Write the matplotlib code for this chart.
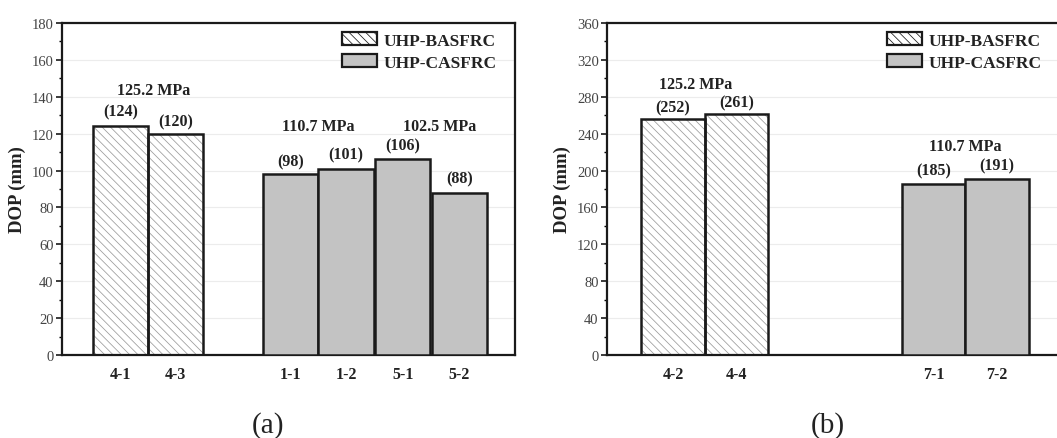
import matplotlib
matplotlib.use("Agg")
import matplotlib.pyplot as plt
from matplotlib.ticker import MultipleLocator
from matplotlib.patches import Patch

plt.rcParams['font.family'] = ['Liberation Serif', 'DejaVu Serif']
plt.rcParams['hatch.linewidth'] = 0.55

# ---- data: panel (a) ----
a_labels = ["4-1", "4-3", "1-1", "1-2", "5-1", "5-2"]
a_values = [124, 120, 98, 101, 106, 88]
a_series = ["BAS", "BAS", "CAS", "CAS", "CAS", "CAS"]
a_value_text = ["(124)", "(120)", "(98)", "(101)", "(106)", "(88)"]
a_strength = ["125.2 MPa", "110.7 MPa", "102.5 MPa"]

# ---- data: panel (b) ----
b_labels = ["4-2", "4-4", "7-1", "7-2"]
b_values = [256, 261, 185, 191]
b_series = ["BAS", "BAS", "CAS", "CAS"]
b_value_text = ["(252)", "(261)", "(185)", "(191)"]
b_strength = ["125.2 MPa", "110.7 MPa"]

legend_names = ["UHP-BASFRC", "UHP-CASFRC"]

W, H = 1057, 439
fig = plt.figure(figsize=(W / 100, H / 100), dpi=100)

def fpos(x0, y0, x1, y1):
    return [x0 / W, 1 - y1 / H, (x1 - x0) / W, (y1 - y0) / H]

axA = fig.add_axes(fpos(62, 24, 515, 356))
axB = fig.add_axes(fpos(607, 24, 1075, 356))

GRAY = "#c3c3c3"
HATCH_C = "#9a9a9a"
EDGE = "#1a1a1a"
TXT = "#222222"
HATCH = "\\\\\\\\"

def draw(ax, pos, vals, series):
    for x, v, s in zip(pos, vals, series):
        if s == "BAS":
            ax.bar(x, v, width=1.0, color="white", edgecolor=HATCH_C,
                   hatch=HATCH, linewidth=0, zorder=2)
            ax.bar(x, v, width=1.0, color="none", edgecolor=EDGE,
                   linewidth=1.8, zorder=3)
        else:
            ax.bar(x, v, width=1.0, color=GRAY, edgecolor=EDGE,
                   linewidth=1.8, zorder=3)

def style(ax, ymax, major, xlim):
    ax.set_ylim(0, ymax)
    ax.set_xlim(*xlim)
    ax.yaxis.set_major_locator(MultipleLocator(major))
    ax.yaxis.set_minor_locator(MultipleLocator(major / 2))
    ax.tick_params(axis='y', which='major', direction='out', length=4,
                   width=1.2, labelsize=10.5, colors=EDGE, labelcolor="#444444", pad=2)
    ax.tick_params(axis='y', which='minor', direction='out', length=2.5, width=1.0)
    ax.tick_params(axis='x', length=0, pad=8)
    for t in ax.get_xticklabels():
        t.set_fontweight('bold')
        t.set_fontsize(11.5)
        t.set_color(TXT)
    for sp in ax.spines.values():
        sp.set_linewidth(1.6)
        sp.set_color(EDGE)
    ax.grid(axis='y', color="#ececec", linewidth=0.8, zorder=0)
    ax.set_axisbelow(True)
    ax.set_ylabel("DOP (mm)", fontsize=13.5, fontweight='bold', labelpad=4, color=TXT)

# panel (a)
a_pos = [1, 2, 4.1, 5.1, 6.13, 7.16]
draw(axA, a_pos, a_values, a_series)
axA.set_xticks(a_pos)
axA.set_xticklabels(a_labels)
style(axA, 180, 20, (-0.06, 8.17))
a_text_y = [132, 126.5, 105, 109, 113.5, 95.5]
for x, y, t in zip(a_pos, a_text_y, a_value_text):
    axA.text(x, y, t, ha='center', va='center', fontsize=11.5, fontweight='bold', color=TXT)
for (x, y), t in zip([(1.6, 143.7), (4.6, 124), (6.8, 124)], a_strength):
    axA.text(x, y, t, ha='center', va='center', fontsize=11.5, fontweight='bold', color=TXT)

# panel (b)
b_pos = [1, 2, 5.1, 6.1]
draw(axB, b_pos, b_values, b_series)
axB.set_xticks(b_pos)
axB.set_xticklabels(b_labels)
style(axB, 360, 40, (-0.04, 7.33))
b_text_y = [269, 274, 200, 206]
for x, y, t in zip(b_pos, b_text_y, b_value_text):
    axB.text(x, y, t, ha='center', va='center', fontsize=11.5, fontweight='bold', color=TXT)
for (x, y), t in zip([(1.35, 294), (5.6, 227)], b_strength):
    axB.text(x, y, t, ha='center', va='center', fontsize=11.5, fontweight='bold', color=TXT)

# legends
def legend(ax, fx, fy):
    handles = [
        Patch(facecolor="white", edgecolor=EDGE, hatch=HATCH, linewidth=1.6),
        Patch(facecolor=GRAY, edgecolor=EDGE, linewidth=1.6),
    ]
    leg = ax.legend(handles, legend_names, loc='upper left',
                    bbox_to_anchor=(fx / W, 1 - fy / H), bbox_transform=fig.transFigure,
                    frameon=False, prop={'family': 'Liberation Serif', 'weight': 'bold', 'size': 12.5},
                    handlelength=2.0, handleheight=0.8, handletextpad=0.4,
                    labelspacing=0.3, borderpad=0, borderaxespad=0)
    for t in leg.get_texts():
        t.set_color(TXT)

legend(axA, 342, 33)
legend(axB, 887, 33)

fig.text(268 / W, 1 - 426 / H, "(a)", ha='center', va='center', fontsize=21, color=TXT)
fig.text(828 / W, 1 - 426 / H, "(b)", ha='center', va='center', fontsize=21, color=TXT)

fig.savefig("out.png", dpi=100)
